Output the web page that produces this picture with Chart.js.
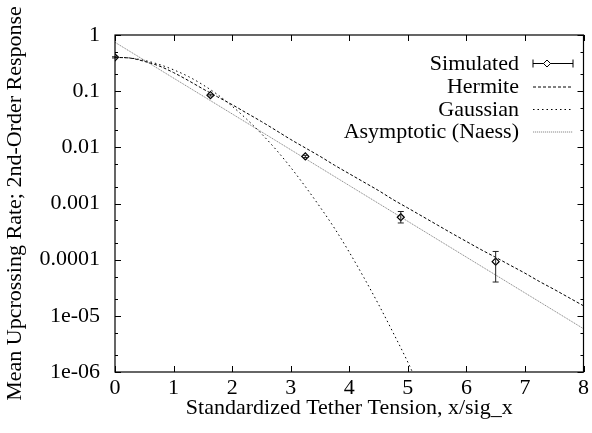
<!DOCTYPE html>
<html>
<head>
<meta charset="utf-8">
<script src="https://cdn.jsdelivr.net/npm/chart.js@4.4.0/dist/chart.umd.min.js"></script>
<style>
  html, body { margin: 0; padding: 0; background: #fff; }
  #wrap { width: 592px; height: 433px; position: relative; }
</style>
</head>
<body>
<div id="wrap"><canvas id="rate"></canvas></div>
<script>
// simulated upcrossing rates with error bar limits
const xSim = [0, 1.63, 3.25, 4.88, 6.5];
const ySim = [0.4, 0.085, 0.0069, 0.00057, 0.000092];
const ySimLow = [0.39, 0.082, 0.0066, 0.00045, 0.00004];
const ySimHigh = [0.41, 0.088, 0.0072, 0.00072, 0.00014];

// Hermite model
const xHermite = [0, 0.25, 0.5, 0.75, 1, 1.25, 1.5, 1.75, 2, 2.25, 2.5, 2.75, 3, 3.25, 3.5, 3.75,
  4, 4.25, 4.5, 4.75, 5, 5.25, 5.5, 5.75, 6, 6.25, 6.5, 6.75, 7, 7.25, 7.5, 7.75, 8];
const yHermite = [0.398, 0.389, 0.339, 0.282, 0.214, 0.155, 0.110, 0.0794, 0.0575, 0.0407, 0.0288,
  0.0200, 0.0138, 0.00977, 0.00692, 0.00479, 0.00339, 0.00240, 0.00170, 0.00117, 0.000832,
  0.000589, 0.000417, 0.000295, 0.000211, 0.000151, 0.000110, 0.0000794, 0.0000575, 0.0000407,
  0.0000295, 0.0000211, 0.0000151];

// Gaussian model
const xGauss = [0, 0.25, 0.5, 0.75, 1, 1.25, 1.5, 1.75, 2, 2.25, 2.5, 2.75, 3, 3.25, 3.5, 3.75,
  4, 4.25, 4.5, 4.75, 5, 5.1];
const yGauss = [0.40, 0.39, 0.353, 0.30, 0.24, 0.183, 0.13, 0.087, 0.054, 0.0316, 0.0175, 0.0091,
  0.0044, 0.0020, 0.00087, 0.00036, 0.000136, 0.000048, 0.0000160, 0.0000050, 0.0000015, 0.00000089];

// asymptotic (Naess) line
const xAsym = [0, 2, 4, 6, 8];
const yAsym = [0.741, 0.0394, 0.00209, 0.000111, 0.0000059];

const seriesNames = ['Simulated', 'Hermite', 'Gaussian', 'Asymptotic (Naess)'];
const xTicks = [0, 1, 2, 3, 4, 5, 6, 7, 8];
const yTickValues = [1e-6, 1e-5, 1e-4, 1e-3, 1e-2, 1e-1, 1];
const yTickLabels = ['1e-06', '1e-05', '0.0001', '0.001', '0.01', '0.1', '1'];

const FONT = 'Liberation Serif, Times New Roman, serif';
const pts = (xs, ys) => xs.map((x, i) => ({ x: x, y: ys[i] }));

const styles = [
  { color: '#000', dash: [] },
  { color: '#000', dash: [3, 2] },
  { color: '#000', dash: [1.5, 3] },
  { color: '#8a8a8a', dash: [1.2, 0.8] }
];

// gnuplot style frame with inward ticks
const frame = {
  id: 'frame',
  afterDraw(chart) {
    const { ctx, chartArea: a, scales } = chart;
    const xs = scales.x, ys = scales.y;
    ctx.save();
    ctx.strokeStyle = '#000';
    ctx.lineWidth = 1.2;
    ctx.strokeRect(a.left, a.top, a.right - a.left, a.bottom - a.top);
    ctx.lineWidth = 1;
    ctx.beginPath();
    xTicks.forEach(v => {
      const px = Math.round(xs.getPixelForValue(v)) + 0.5;
      ctx.moveTo(px, a.bottom); ctx.lineTo(px, a.bottom - 6);
      ctx.moveTo(px, a.top); ctx.lineTo(px, a.top + 6);
    });
    yTickValues.forEach((v, i) => {
      const py = Math.round(ys.getPixelForValue(v)) + 0.5;
      ctx.moveTo(a.left, py); ctx.lineTo(a.left + 6, py);
      ctx.moveTo(a.right, py); ctx.lineTo(a.right - 6, py);
      if (i < yTickValues.length - 1) {
        [2, 5].forEach(m => {
          const q = Math.round(ys.getPixelForValue(v * m)) + 0.5;
          ctx.moveTo(a.left, q); ctx.lineTo(a.left + 3, q);
          ctx.moveTo(a.right, q); ctx.lineTo(a.right - 3, q);
        });
      }
    });
    ctx.stroke();
    ctx.restore();
  }
};

// vertical error bars for the simulated points
const errorBars = {
  id: 'errorBars',
  afterDatasetsDraw(chart) {
    const { ctx, scales } = chart;
    ctx.save();
    ctx.strokeStyle = '#222';
    ctx.lineWidth = 1;
    ctx.beginPath();
    xSim.forEach((x, i) => {
      const px = scales.x.getPixelForValue(x);
      const lo = scales.y.getPixelForValue(ySimLow[i]);
      const hi = scales.y.getPixelForValue(ySimHigh[i]);
      ctx.moveTo(px, lo); ctx.lineTo(px, hi);
      ctx.moveTo(px - 3, lo); ctx.lineTo(px + 3, lo);
      ctx.moveTo(px - 3, hi); ctx.lineTo(px + 3, hi);
    });
    ctx.stroke();
    ctx.restore();
  }
};

// key in the upper right, text right-aligned before the sample
const key = {
  id: 'key',
  afterDraw(chart) {
    const ctx = chart.ctx;
    const textRight = 519, x0 = 533, x1 = 573;
    const rows = [63, 86.5, 109, 131.5];
    ctx.save();
    ctx.font = '22px ' + FONT;
    ctx.fillStyle = '#000';
    ctx.textAlign = 'right';
    ctx.textBaseline = 'middle';
    seriesNames.forEach((name, i) => {
      const y = rows[i];
      ctx.fillText(name, textRight, y + 1);
      ctx.strokeStyle = styles[i].color;
      ctx.lineWidth = 1;
      ctx.setLineDash(styles[i].dash);
      ctx.beginPath();
      ctx.moveTo(x0, y + 0.5); ctx.lineTo(x1, y + 0.5);
      ctx.stroke();
      ctx.setLineDash([]);
      if (i === 0) {
        ctx.beginPath();
        ctx.moveTo(x0, y - 3.5); ctx.lineTo(x0, y + 4.5);
        ctx.moveTo(x1, y - 3.5); ctx.lineTo(x1, y + 4.5);
        ctx.stroke();
        ctx.fillStyle = '#fff';
        ctx.beginPath();
        const cx = 547, cy = y + 0.5;
        ctx.moveTo(cx, cy - 3.5); ctx.lineTo(cx + 3.5, cy);
        ctx.lineTo(cx, cy + 3.5); ctx.lineTo(cx - 3.5, cy); ctx.closePath();
        ctx.fill(); ctx.stroke();
        ctx.fillStyle = '#000';
      }
    });
    ctx.restore();
  }
};

const lineSet = (label, data, i) => ({
  label: label,
  data: data,
  showLine: true,
  borderColor: styles[i].color,
  borderDash: styles[i].dash,
  borderWidth: 1,
  pointRadius: 0,
  cubicInterpolationMode: 'monotone'
});

new Chart(document.getElementById('rate'), {
  type: 'scatter',
  data: {
    datasets: [
      {
        label: seriesNames[0],
        data: pts(xSim, ySim),
        showLine: false,
        pointStyle: 'rectRot',
        pointRadius: 3.5,
        borderColor: '#000',
        borderWidth: 1.2,
        backgroundColor: 'rgba(255,255,255,0)'
      },
      lineSet(seriesNames[1], pts(xHermite, yHermite), 1),
      lineSet(seriesNames[2], pts(xGauss, yGauss), 2),
      lineSet(seriesNames[3], pts(xAsym, yAsym), 3)
    ]
  },
  options: {
    responsive: true,
    maintainAspectRatio: false,
    animation: false,
    layout: { padding: { top: 35, right: 7, left: 0, bottom: 0 } },
    plugins: { legend: { display: false }, tooltip: { enabled: false } },
    scales: {
      x: {
        type: 'linear',
        min: 0,
        max: 8,
        grid: { display: false, drawTicks: false },
        border: { display: false },
        afterBuildTicks: s => { s.ticks = xTicks.map(v => ({ value: v })); },
        ticks: {
          autoSkip: false,
          maxRotation: 0,
          padding: 3,
          color: '#000',
          font: { family: FONT, size: 22 },
          callback: v => String(v)
        },
        title: {
          display: true,
          text: 'Standardized Tether Tension, x/sig_x',
          color: '#000',
          font: { family: FONT, size: 22 },
          padding: { top: 0, bottom: 12 }
        },
        afterFit: s => { s.height = 61; }
      },
      y: {
        type: 'logarithmic',
        min: 1e-6,
        max: 1,
        grid: { display: false, drawTicks: false },
        border: { display: false },
        afterBuildTicks: s => { s.ticks = yTickValues.map(v => ({ value: v })); },
        ticks: {
          autoSkip: false,
          padding: 15,
          color: '#000',
          font: { family: FONT, size: 22 },
          callback: (v, i) => yTickLabels[i]
        },
        title: {
          display: true,
          text: 'Mean Upcrossing Rate; 2nd-Order Response',
          color: '#000',
          font: { family: FONT, size: 22 },
          padding: { top: 2, bottom: 0 }
        },
        afterFit: s => { s.width = 115; }
      }
    }
  },
  plugins: [errorBars, frame, key]
});
</script>
</body>
</html>
